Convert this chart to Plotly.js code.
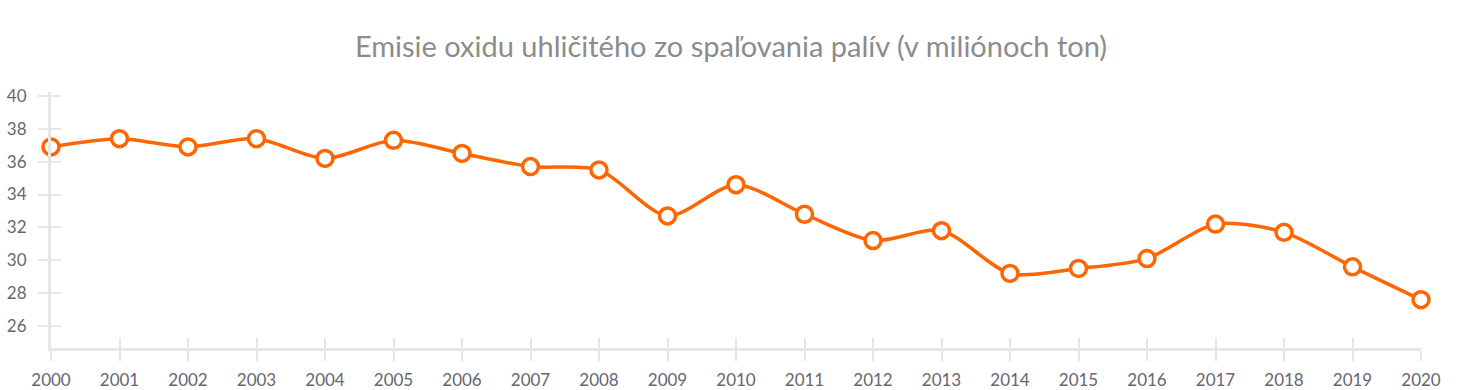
<!DOCTYPE html>
<html><head><meta charset="utf-8">
<script src="https://cdn.plot.ly/plotly-3.0.1.min.js"></script>
<style>html,body{margin:0;padding:0;background:#fff}#c{width:1462px;height:390px}</style>
</head><body><div id="c"></div>
<script>
const years = [2000,2001,2002,2003,2004,2005,2006,2007,2008,2009,2010,2011,2012,2013,2014,2015,2016,2017,2018,2019,2020];
const emissions = [36.9,37.4,36.9,37.4,36.2,37.3,36.5,35.7,35.5,32.7,34.6,32.8,31.2,31.8,29.2,29.5,30.1,32.2,31.7,29.6,27.6];
const yTicks = [26,28,30,32,34,36,38,40];
const titleText = "Emisie oxidu uhličitého zo spaľovania palív (v miliónoch ton)";

const axisCol = '#e6e6e6';
const tickFont = {family:'Lato, "Open Sans", sans-serif', size:17, color:'#666672'};
const xr = [2000,2020], yr = [24.66,40.24];

const data = [{
  x: years, y: emissions, type:'scatter', mode:'lines+markers',
  line:{color:'#ff6600', width:3.5, shape:'spline', smoothing:0.8},
  marker:{size:16, color:'#ffffff', line:{color:'#ff6600', width:3.5}},
  cliponaxis:false, hoverinfo:'x+y'
},{
  x: years, y: emissions, xaxis:'x2', yaxis:'y2', type:'scatter', mode:'none', hoverinfo:'skip', showlegend:false
}];

const layout = {
  width:1462, height:390,
  margin:{l:51, r:41, t:92, b:42, pad:0},
  paper_bgcolor:'#fff', plot_bgcolor:'#fff',
  showlegend:false,
  title:{text:titleText, x:0.5, xanchor:'center', y:0.88, yanchor:'middle',
    font:{family:'Lato, "Open Sans", sans-serif', size:29, color:'#8c8c8c'}},
  xaxis:{range:xr, tickmode:'array', tickvals:years, ticktext:years.map(String),
    showgrid:false, zeroline:false, showline:true, linecolor:axisCol, linewidth:3,
    ticks:'outside', ticklen:10, tickwidth:2, tickcolor:axisCol, tickfont:tickFont, ticklabelstandoff:5, fixedrange:true},
  yaxis:{range:yr, tickmode:'array', tickvals:yTicks,
    showgrid:false, zeroline:false, showline:true, linecolor:axisCol, linewidth:3,
    ticks:'outside', ticklen:10, tickwidth:2, tickcolor:axisCol, tickfont:tickFont, ticklabelstandoff:8, fixedrange:true},
  xaxis2:{range:xr, overlaying:'x', anchor:'y2', tickmode:'array', tickvals:years, showticklabels:false,
    showgrid:false, zeroline:false, showline:false, ticks:'inside', ticklen:10, tickwidth:2, tickcolor:axisCol, side:'bottom'},
  yaxis2:{range:yr, overlaying:'y', anchor:'x2', tickmode:'array', tickvals:yTicks, showticklabels:false,
    showgrid:false, zeroline:false, showline:false, ticks:'inside', ticklen:10, tickwidth:2, tickcolor:axisCol, side:'left'}
};
Plotly.newPlot('c', data, layout, {displayModeBar:false, staticPlot:true});
</script></body></html>
